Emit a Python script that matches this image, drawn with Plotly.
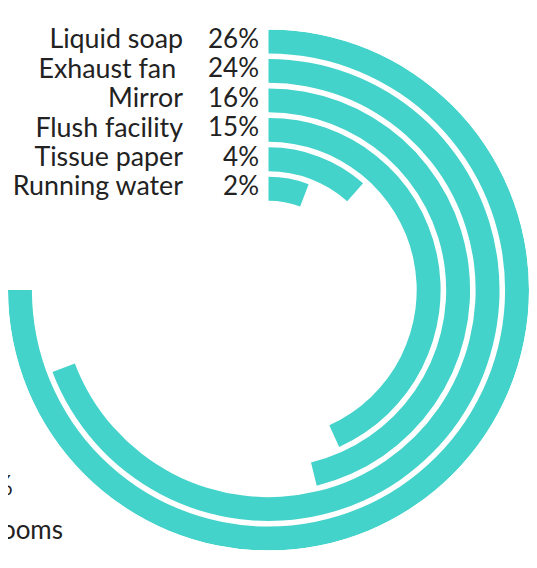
import plotly.graph_objects as go

# ---- data ----
categories = ["Liquid soap", "Exhaust fan\u00a0", "Mirror", "Flush facility", "Tissue paper", "Running water"]
values = [26, 24, 16, 15, 4, 2]
value_labels = ["26%", "24%", "16%", "15%", "4%", "2%"]
note_line1 = "%"
note_line2 = "washrooms"

# ---- styling / geometry ----
TEAL = "#43D3CA"
TEXT = "#222222"
FONT = "Lato"
FULL_CIRCLE_VALUE = 26 / 0.75   # value that would close a full 360° ring
RING_OUTER = 280                # radial units
RING_PITCH = 31.67
RING_THICK = 25.7

# page adds an 8px body margin around the figure
W, H = 521, 552
M_T, M_B = 12, 0
PLOT_H = H - M_T - M_B

n = len(values)
degs = [v / FULL_CIRCLE_VALUE * 360 for v in values]
bases = [RING_OUTER - RING_THICK - i * RING_PITCH for i in range(n)]
mids = [b + RING_THICK / 2 for b in bases]

fig = go.Figure()
fig.add_trace(go.Barpolar(
    r=[RING_THICK] * n,
    base=bases,
    theta=[d / 2 for d in degs],
    width=degs,
    marker=dict(color=TEAL, line=dict(width=0)),
    hoverinfo="skip",
))
fig.add_trace(go.Scatterpolar(
    r=mids, theta=[0] * n, mode="markers+text", text=value_labels,
    textposition="middle left", cliponaxis=False,
    marker=dict(size=13.6, opacity=0),
    textfont=dict(family=FONT, size=26, color=TEXT),
    hoverinfo="skip",
))
fig.add_trace(go.Scatterpolar(
    r=mids, theta=[0] * n, mode="markers+text", text=categories,
    textposition="middle left", cliponaxis=False,
    marker=dict(size=135.2, opacity=0),
    textfont=dict(family=FONT, size=26.8, color=TEXT),
    hoverinfo="skip",
))

fig.update_layout(
    width=W, height=H,
    margin=dict(l=0, r=0, t=M_T, b=M_B, autoexpand=False),
    showlegend=False,
    paper_bgcolor="white", plot_bgcolor="white",
    polar=dict(
        domain=dict(x=[0, 1], y=[0, 1]),
        bgcolor="white",
        radialaxis=dict(range=[0, RING_OUTER], visible=False, showgrid=False, showline=False, showticklabels=False, ticks=""),
        angularaxis=dict(visible=False, rotation=90, direction="clockwise", showgrid=False, showline=False, showticklabels=False, ticks=""),
    ),
    annotations=[
        dict(text=note_line1, xref="paper", yref="paper", x=7 / W, y=1 - (477 - M_T) / PLOT_H,
             xanchor="right", yanchor="middle", showarrow=False,
             font=dict(family=FONT, size=26, color=TEXT)),
        dict(text=note_line2, xref="paper", yref="paper", x=57 / W, y=1 - (521 - M_T) / PLOT_H,
             xanchor="right", yanchor="middle", showarrow=False,
             font=dict(family=FONT, size=26, color=TEXT)),
    ],
)

fig.write_html("out.html")
